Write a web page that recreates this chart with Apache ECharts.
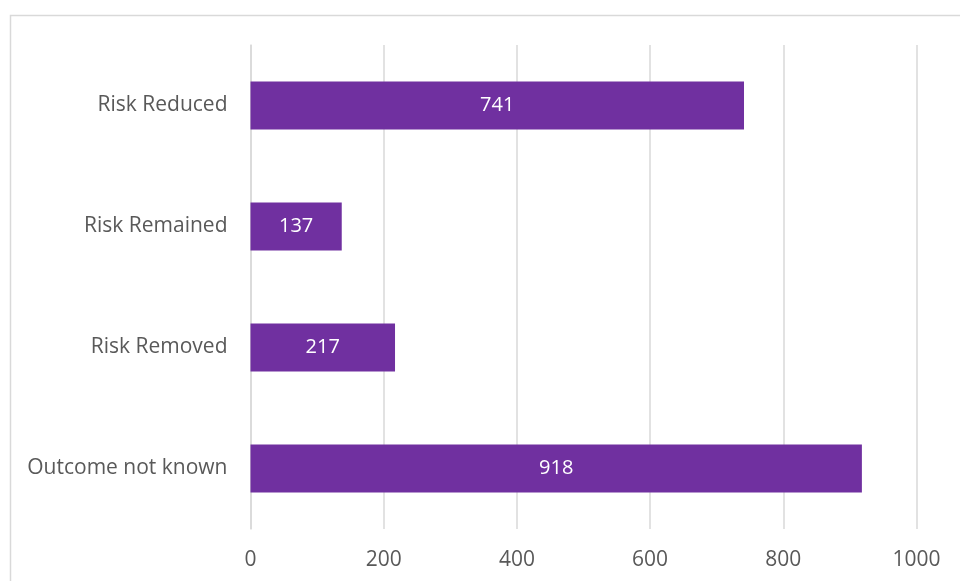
<!DOCTYPE html>
<html>
<head>
<meta charset="utf-8">
<script src="https://cdn.jsdelivr.net/npm/echarts@6/dist/echarts.min.js"></script>
<style>html,body{margin:0;padding:0;background:#fff;}#c{width:960px;height:581px;}</style>
</head>
<body>
<div id="c"></div>
<script>
var categories = ['Risk Reduced', 'Risk Remained', 'Risk Removed', 'Outcome not known'];
var values = [741, 137, 217, 918];
var xTicks = [0, 200, 400, 600, 800, 1000];

var chart = echarts.init(document.getElementById('c'), null, {renderer: 'canvas'});
chart.setOption({
  animation: false,
  backgroundColor: '#ffffff',
  graphic: [{
    type: 'rect',
    shape: {x: 10.5, y: 15.5, width: 1000, height: 700},
    style: {fill: 'none', stroke: '#d9d9d9', lineWidth: 1.5},
    silent: true
  }],
  grid: {left: 250.5, right: 43.5, top: 45, bottom: 52, containLabel: false},
  xAxis: {
    type: 'value',
    min: xTicks[0],
    max: xTicks[xTicks.length - 1],
    interval: 200,
    axisLine: {show: false},
    axisTick: {show: false},
    splitLine: {show: true, lineStyle: {color: '#d9d9d9', width: 1.5}},
    axisLabel: {color: '#595959', fontSize: 21, fontFamily: 'Open Sans', margin: 21,
      formatter: function (v) { return String(v); }}
  },
  yAxis: {
    type: 'category',
    inverse: true,
    data: categories,
    axisLine: {show: true, lineStyle: {color: '#d9d9d9', width: 1.5}},
    axisTick: {show: false},
    axisLabel: {color: '#595959', fontSize: 21, fontFamily: 'Open Sans', margin: 23, padding: [3, 0, 0, 0]}
  },
  series: [{
    type: 'bar',
    data: values,
    barWidth: 48,
    itemStyle: {color: '#7030A0'},
    label: {show: true, position: 'inside', color: '#ffffff', fontSize: 20, fontFamily: 'Open Sans', padding: [3, 0, 0, 0]}
  }]
});
</script>
</body>
</html>
